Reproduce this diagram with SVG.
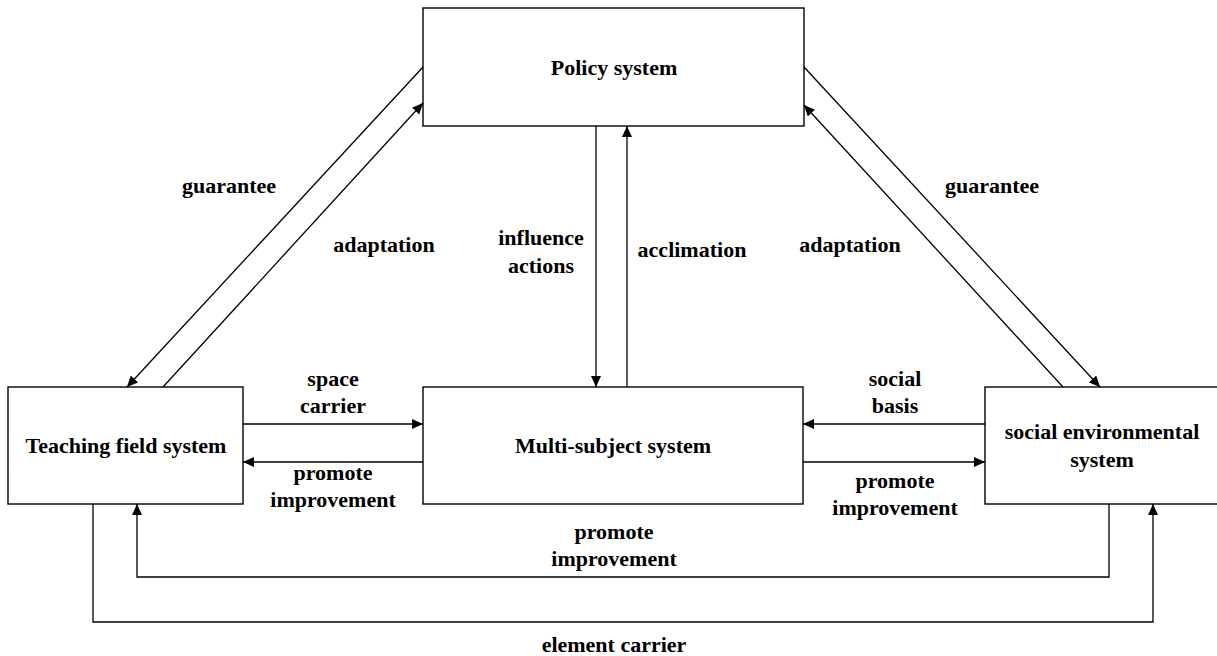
<svg xmlns="http://www.w3.org/2000/svg" width="1217" height="656" viewBox="0 0 1217 656">
<style>
.box{fill:#fff;stroke:#000;stroke-width:1.4}
.t{font-family:"Liberation Serif","Times New Roman",serif;font-weight:bold;font-size:22px;fill:#000;text-anchor:middle}
.c{fill:none;stroke:#000;stroke-width:1.3}
</style>
<defs>
<marker id="ah" markerWidth="12" markerHeight="10" refX="11" refY="5" orient="auto" markerUnits="userSpaceOnUse">
<path d="M0,0 L11,5 L0,10 Z" fill="#000"/>
</marker>
</defs>
<rect width="1217" height="656" fill="#fff"/>
<g id="policy"><rect class="box" x="423" y="8" width="381" height="118"/><text class="t" x="614" y="75">Policy system</text></g>
<g id="teaching"><rect class="box" x="8" y="387" width="235" height="117"/><text class="t" x="126" y="453">Teaching field system</text></g>
<g id="multi"><rect class="box" x="423" y="387" width="380" height="117"/><text class="t" x="613" y="453">Multi-subject system</text></g>
<g id="social"><rect class="box" x="985" y="387" width="240" height="117"/><text class="t" x="1102" y="439">social environmental</text><text class="t" x="1102" y="467">system</text></g>
<g id="connectors">
<line class="c" x1="423" y1="67" x2="127" y2="387" marker-end="url(#ah)"/>
<line class="c" x1="163" y1="387" x2="423" y2="103" marker-end="url(#ah)"/>
<line class="c" x1="804" y1="67" x2="1100" y2="387" marker-end="url(#ah)"/>
<line class="c" x1="1063" y1="387" x2="804" y2="105" marker-end="url(#ah)"/>
<line class="c" x1="596" y1="126" x2="596" y2="387" marker-end="url(#ah)"/>
<line class="c" x1="627" y1="387" x2="627" y2="126" marker-end="url(#ah)"/>
<line class="c" x1="243" y1="424" x2="423" y2="424" marker-end="url(#ah)"/>
<line class="c" x1="423" y1="462" x2="243" y2="462" marker-end="url(#ah)"/>
<line class="c" x1="985" y1="424" x2="803" y2="424" marker-end="url(#ah)"/>
<line class="c" x1="803" y1="462" x2="985" y2="462" marker-end="url(#ah)"/>
<polyline class="c" points="1109,504 1109,577 137,577 137,504" marker-end="url(#ah)"/>
<polyline class="c" points="93,504 93,622 1153,622 1153,504" marker-end="url(#ah)"/>
<g id="labels">
<text class="t" x="229" y="193">guarantee</text>
<text class="t" x="384" y="252">adaptation</text>
<text class="t" x="992" y="193">guarantee</text>
<text class="t" x="850" y="252">adaptation</text>
<text class="t" x="541" y="245">influence</text>
<text class="t" x="541" y="273">actions</text>
<text class="t" x="692" y="257">acclimation</text>
<text class="t" x="333" y="386">space</text>
<text class="t" x="333" y="413">carrier</text>
<text class="t" x="333" y="480">promote</text>
<text class="t" x="333" y="507">improvement</text>
<text class="t" x="895" y="386">social</text>
<text class="t" x="895" y="413">basis</text>
<text class="t" x="895" y="488">promote</text>
<text class="t" x="895" y="515">improvement</text>
<text class="t" x="614" y="539">promote</text>
<text class="t" x="614" y="566">improvement</text>
<text class="t" x="614" y="652">element carrier</text>
</g>
</g>
</svg>
